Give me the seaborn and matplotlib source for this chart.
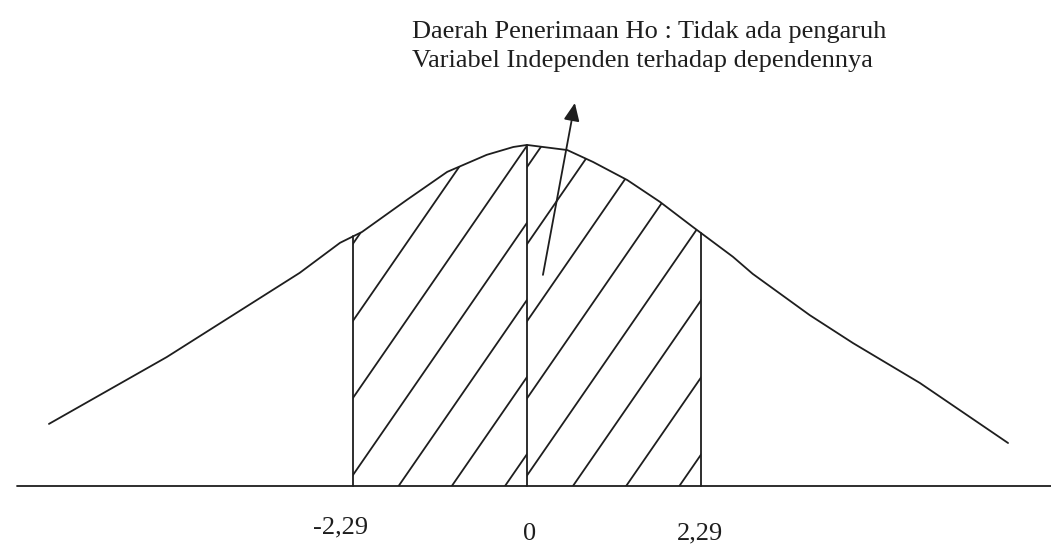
import numpy as np
import matplotlib
matplotlib.use('Agg')
import matplotlib.pyplot as plt
from matplotlib.patches import Polygon
import seaborn as sns

# curve (x in t units, y relative to the peak)
curve_x = [-6.29, -4.74, -2.99, -2.46, -2.17, -1.58, -1.05, -0.53, -0.18, 0.0,
           0.53, 0.87, 1.32, 1.75, 2.18, 2.71, 2.97, 3.72, 4.29, 5.17, 6.33]
curve_y = [0.182, 0.378, 0.625, 0.713, 0.745, 0.839, 0.921, 0.971, 0.994, 1.0,
           0.985, 0.950, 0.897, 0.833, 0.760, 0.672, 0.622, 0.501, 0.419, 0.302,
           0.126]

crit_values = [-2.29, 0.0, 2.29]
tick_labels = ['-2,29', '0', '2,29']
title_lines = ['Daerah Penerimaan Ho : Tidak ada pengaruh',
               'Variabel Independen terhadap dependennya']

INK = '#1e1e1e'
LW = 1.3
HATCH_SLOPE = 0.323
HATCH_STEP = 0.70

sns.set_theme(style='white')
plt.rcParams['font.family'] = ['Liberation Serif', 'DejaVu Serif']

fig = plt.figure(figsize=(10.51, 5.46), dpi=100)
ax = fig.add_axes([0, 0, 1, 1])
ax.set_xlim(-6.934, 6.895)
ax.set_ylim(-0.176, 1.425)
ax.axis('off')

df = {'x': curve_x, 'y': curve_y}
sns.lineplot(data=df, x='x', y='y', sort=False, color=INK, lw=LW, ax=ax)

# baseline
ax.axhline(0, xmin=17 / 1051, xmax=1, color=INK, lw=LW)

# vertical boundaries up to the curve
for c in crit_values:
    top = np.interp(c, curve_x, curve_y)
    ax.plot([c, c], [0, top], color=INK, lw=LW)

# hatching, each half drawn separately like the sketch
halves = [(crit_values[0], crit_values[1], -0.289),
          (crit_values[1], crit_values[2], 0.605)]
for lo, hi, phase in halves:
    xs = np.linspace(lo, hi, 200)
    ys = np.interp(xs, curve_x, curve_y)
    verts = np.column_stack([np.r_[xs, hi, lo], np.r_[ys, 0, 0]])
    clip = Polygon(verts, closed=True, fill=False, edgecolor='none')
    ax.add_patch(clip)
    k0 = int(np.floor((lo - 1.2 / HATCH_SLOPE - phase) / HATCH_STEP))
    k1 = int(np.ceil((hi - phase) / HATCH_STEP))
    for k in range(k0, k1 + 1):
        x0 = phase + k * HATCH_STEP
        ln, = ax.plot([x0, x0 + 1.2 / HATCH_SLOPE], [0, 1.2],
                      color=INK, lw=LW)
        ln.set_clip_path(clip)

# tick labels under the baseline
label_pos = [(-2.45, -0.123), (0.04, -0.14), (2.27, -0.14)]
for (lx, ly), txt in zip(label_pos, tick_labels):
    ax.text(lx, ly, txt, ha='center', va='center', fontsize=19, color=INK)

# annotation text and arrow
ax.text(-1.51, 1.33, title_lines[0], ha='left', va='center',
        fontsize=19, color=INK)
ax.text(-1.51, 1.245, title_lines[1], ha='left', va='center',
        fontsize=19, color=INK)
ax.annotate('', xy=(0.63, 1.123), xytext=(0.21, 0.619),
            arrowprops=dict(arrowstyle='-|>,head_length=0.9,head_width=0.4',
                            color=INK, lw=LW, shrinkA=0, shrinkB=0))

fig.savefig('out.png', dpi=100, facecolor='white')
